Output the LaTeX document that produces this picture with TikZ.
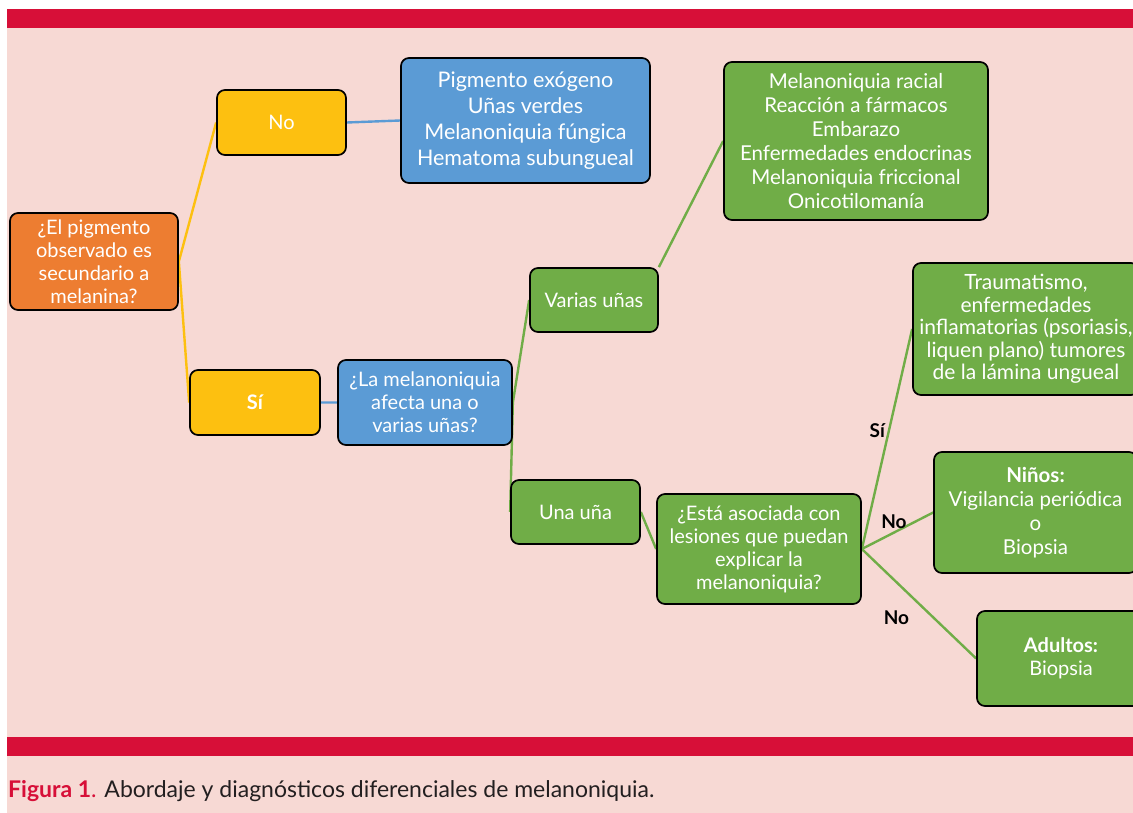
\documentclass[tikz,border=0pt]{standalone}
\usepackage{fontspec}
\setmainfont{Lato}
\usetikzlibrary{positioning}

\definecolor{fondo}{HTML}{F7D9D4}
\definecolor{barra}{HTML}{D70F38}
\definecolor{naranja}{HTML}{ED7D31}
\definecolor{amarillo}{HTML}{FDC010}
\definecolor{azul}{HTML}{5B9BD5}
\definecolor{verde}{HTML}{70AD47}
\definecolor{textopie}{HTML}{231F20}

\pgfdeclarelayer{capafondo}
\pgfdeclarelayer{lineas}
\pgfsetlayers{capafondo,lineas,main}

\begin{document}
\begin{tikzpicture}[x=1pt,y=-1pt,
		caja/.style={draw=black, line width=1.7pt, rounded corners=8pt,
			text=white, align=center, inner sep=0pt, anchor=center,
			font=\fontsize{20}{23}\selectfont},
		pregunta/.style={caja, fill=naranja},
		respuesta/.style={caja, fill=amarillo},
		cajaazul/.style={caja, fill=azul},
		cajaverde/.style={caja, fill=verde},
		etiqueta/.style={font=\fontsize{19}{22}\selectfont\bfseries, text=black, inner sep=3pt}]

		\clip (0,0) rectangle (1133,813);

		% Fondo y barras
		\begin{pgfonlayer}{capafondo}
			\fill[white] (0,0) rectangle (1133,813);
			\fill[fondo] (7,28) rectangle (1133,813);
			\fill[barra] (7,9) rectangle (1133,28);
			\fill[barra] (7,737) rectangle (1133,756);
		\end{pgfonlayer}

		% Pregunta inicial
		\node[pregunta,
			minimum width=168pt,
			minimum height=97pt] (raiz) at (94,261.5)
			{¿El pigmento\\observado es\\secundario a\\melanina?};

		% Respuesta No
		\node[respuesta,
			minimum width=129pt,
			minimum height=65pt] (no) at (281.5,122.5) {No};

		% Respuesta Si
		\node[respuesta,
			minimum width=130pt,
			minimum height=65pt,
			font=\fontsize{20}{23}\selectfont\bfseries] (si) at (255,402.5) {Sí};

		% Causas no melanicas
		\node[cajaazul,
			minimum width=249pt,
			minimum height=125pt,
			font=\fontsize{21.5}{26}\selectfont] (exogeno) at (525.5,120.5)
			{Pigmento exógeno\\Uñas verdes\\Melanoniquia fúngica\\Hematoma subungueal};

		% Una o varias
		\node[cajaazul,
			minimum width=174pt,
			minimum height=85pt] (afecta) at (425,402.5)
			{¿La melanoniquia\\afecta una o\\varias uñas?};

		% Varias unas
		\node[cajaverde,
			minimum width=128pt,
			minimum height=64pt] (varias) at (594,300) {Varias uñas};

		% Causas de varias unas
		\node[cajaverde,
			minimum width=264pt,
			minimum height=158pt,
			font=\fontsize{20.5}{24}\selectfont] (racial) at (856,141)
			{Melanoniquia racial\\Reacción a fármacos\\Embarazo\\Enfermedades endocrinas\\Melanoniquia friccional\\Onicotilomanía};

		% Una una
		\node[cajaverde,
			minimum width=129pt,
			minimum height=64pt] (una) at (575.5,512) {Una uña};

		% Lesiones asociadas
		\node[cajaverde,
			minimum width=204pt,
			minimum height=110pt] (lesiones) at (759,549)
			{¿Está asociada con\\lesiones que puedan\\explicar la\\melanoniquia?};

		% Causas locales
		\node[cajaverde,
			minimum width=226pt,
			minimum height=132pt,
			font=\fontsize{21}{22.5}\selectfont] (trauma) at (1026,329)
			{Traumatismo,\\enfermedades\\inflamatorias (psoriasis,\\liquen plano) tumores\\de la lámina ungueal};

		% Ninos
		\node[cajaverde,
			minimum width=203pt,
			minimum height=121pt,
			font=\fontsize{20.5}{24}\selectfont] (ninos) at (1035.5,512.5)
			{\textbf{Niños:}\\Vigilancia periódica\\o\\Biopsia};

		% Adultos
		\node[cajaverde,
			minimum width=168pt,
			minimum height=95pt] (adultos) at (1061,658.5)
			{\textbf{Adultos:}\\Biopsia};

		% Conectores
		\begin{pgfonlayer}{lineas}
			\draw[line width=2.4pt, amarillo] (raiz.east) -- (no.west)
			(raiz.east) -- (si.west);
			\draw[line width=2.4pt, azul] (no.east) -- (exogeno.west)
			(si.east) -- (afecta.west);
			\draw[line width=2.4pt, verde] (afecta.east) -- (varias.west)
			(afecta.east) -- (una.west)
			(varias.north east) -- (racial.west)
			(una.east) -- (lesiones.west)
			(lesiones.east) edge node[etiqueta, pos=0.54, left] {Sí} (trauma.west)
			(lesiones.east) edge node[etiqueta, pos=0.45, above] {No} (ninos.west)
			(lesiones.east) edge node[etiqueta, pos=0.45, anchor=north east, yshift=-8pt] {No} (adultos.west);
		\end{pgfonlayer}

		% Pie de figura
		\node[anchor=base west, inner sep=0pt, text=textopie,
			font=\fontsize{23}{26}\selectfont] (pie) at (8,797)
			{\textcolor{barra}{\textbf{Figura 1}.} Abordaje y diagnósticos diferenciales de melanoniquia.};
	\end{tikzpicture}
\end{document}
